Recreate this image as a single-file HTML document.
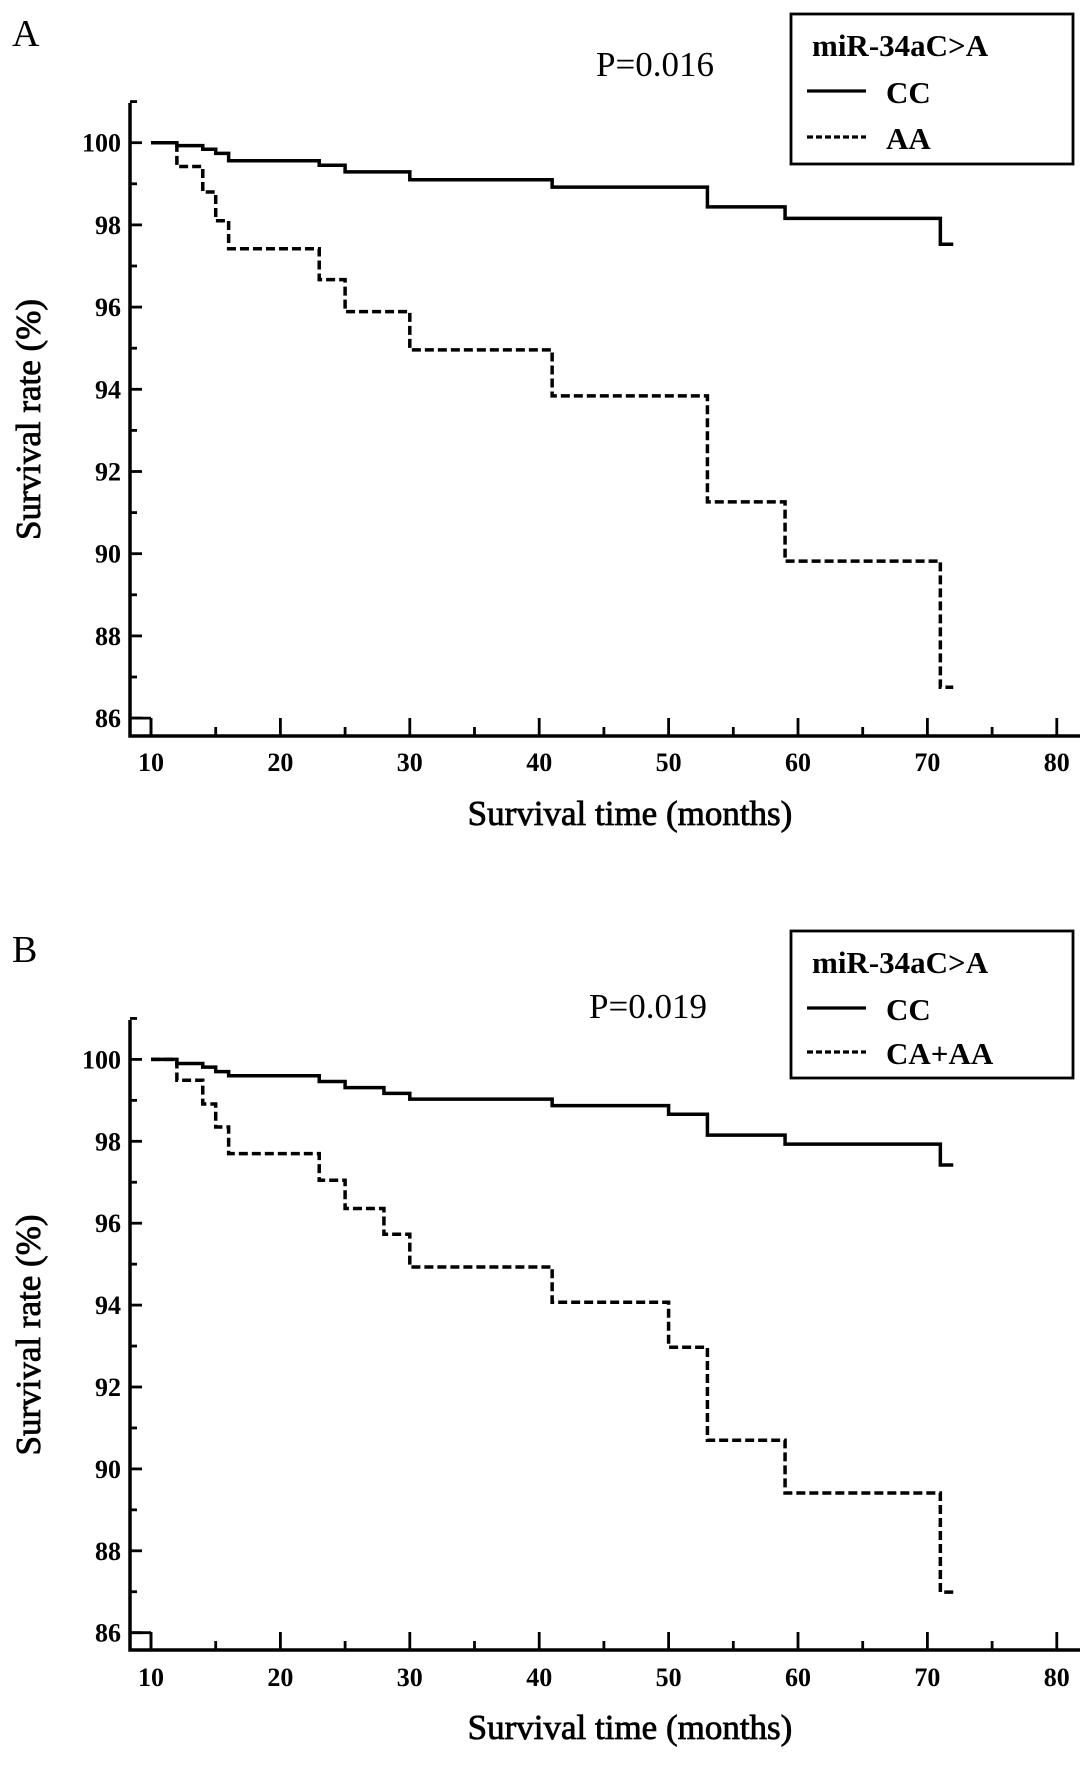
<!DOCTYPE html>
<html><head><meta charset="utf-8">
<style>
html,body{margin:0;padding:0;background:#fff;}
svg{display:block;font-family:"Liberation Serif",serif;}
</style></head>
<body>
<svg id="fig" width="1087" height="1766" viewBox="0 0 1087 1766"></svg>
<script>
const xTicks = [10,20,30,40,50,60,70,80];
const yTicks = [86,88,90,92,94,96,98,100];
const aCCx = [10,12,14,15,16,23,25,30,41,53,59,71,72];
const aCCy = [100,99.93,99.84,99.74,99.56,99.45,99.29,99.1,98.92,98.44,98.16,97.53,97.53];
const aAAx = [10,12,14,15,16,23,25,30,41,53,59,71,72];
const aAAy = [100,99.42,98.8,98.1,97.42,96.67,95.89,94.96,93.84,91.26,89.82,86.75,86.75];
const bCCx = [10,12,14,15,16,23,25,28,30,41,50,53,59,71,72];
const bCCy = [100,99.9,99.81,99.7,99.6,99.46,99.31,99.17,99.03,98.87,98.66,98.15,97.93,97.42,97.42];
const bAAx = [10,12,14,15,16,23,25,28,30,41,50,53,59,71,72];
const bAAy = [100,99.49,98.91,98.35,97.7,97.05,96.36,95.73,94.93,94.07,92.97,90.7,89.41,86.99,86.99];

const NS="http://www.w3.org/2000/svg";
const svg=document.getElementById('fig');
function mk(tag,attrs,parent,text){const e=document.createElementNS(NS,tag);for(const k in attrs)e.setAttribute(k,attrs[k]);if(text!==undefined)e.textContent=text;(parent||svg).appendChild(e);return e;}

function panel(cfg){
  const g=mk('g',{});
  
  
  const X=v=>151+(v-10)*12.94;
  const Y=v=>cfg.y100+(100-v)*cfg.per1;
  const ax=130, bottom=cfg.bottom, top=cfg.top;
  let e;
  e=mk('line',{x1:ax,y1:top,x2:ax,y2:bottom+1.5,stroke:'#000','stroke-width':3.5},g);
  
  e=mk('line',{x1:ax-1.5,y1:bottom,x2:1080,y2:bottom,stroke:'#000','stroke-width':3.5},g);
  
  for(let v=10;v<=80;v+=5){
    const major=v%10===0;
    e=mk('line',{x1:X(v),y1:bottom,x2:X(v),y2:bottom-(major?18:9),stroke:'#000','stroke-width':2.8},g);
    
  }
  xTicks.forEach(v=>{
    e=mk('text',{x:X(v),y:cfg.xlab,'text-anchor':'middle','font-size':26,'font-weight':'bold'},g,String(v));
    
  });
  for(let v=86;v<=101;v+=1){
    const major=v%2===0;
    e=mk('line',{x1:ax,y1:Y(v),x2:ax+(major?12:7),y2:Y(v),stroke:'#000','stroke-width':2.8},g);
    
  }
  e=mk('line',{x1:ax,y1:Y(86),x2:X(10),y2:Y(86),stroke:'#000','stroke-width':2.8},g);
  
  e=mk('line',{x1:X(10),y1:Y(86),x2:X(10),y2:bottom,stroke:'#000','stroke-width':2.8},g);
  
  yTicks.forEach(v=>{
    e=mk('text',{x:121,y:Y(v)+9,'text-anchor':'end','font-size':26,'font-weight':'bold'},g,String(v));
    
  });
  e=mk('text',{x:630,y:cfg.xtitle,'text-anchor':'middle','font-size':35,stroke:'#000','stroke-width':0.8},g,'Survival time (months)');
  
  const yc=(top+bottom)/2;
  e=mk('text',{x:0,y:0,'text-anchor':'middle','font-size':35,stroke:'#000','stroke-width':0.8,transform:`translate(40,${yc}) rotate(-90)`},g,'Survival rate (%)');
  
  e=mk('text',{x:12,y:cfg.letterY,'font-size':38},g,cfg.letter);
  
  e=mk('text',{x:cfg.px,y:cfg.pY,'text-anchor':'middle','font-size':35},g,cfg.p);
  
  function step(xs,ys){let d=`M${X(xs[0])},${Y(ys[0])}`;for(let i=1;i<xs.length;i++){d+=` H${X(xs[i])} V${Y(ys[i])}`;}return d;}
  e=mk('path',{d:step(cfg.ccx,cfg.ccy),fill:'none',stroke:'#000','stroke-width':3.5},g);
  
  e=mk('path',{d:step(cfg.aax,cfg.aay),fill:'none',stroke:'#000','stroke-width':3.5,'stroke-dasharray':'9,4'},g);
  
  const L=cfg.leg;
  e=mk('rect',{x:791,y:L.top,width:282,height:L.h,fill:'#fff',stroke:'#000','stroke-width':2.8},g);
  
  e=mk('text',{x:812,y:L.t,'font-size':31,'font-weight':'bold'},g,'miR-34aC>A');
  
  e=mk('line',{x1:807,y1:L.l1,x2:866,y2:L.l1,stroke:'#000','stroke-width':3.2},g);
  
  e=mk('text',{x:886,y:L.l1+12,'font-size':31,'font-weight':'bold'},g,'CC');
  
  e=mk('line',{x1:807,y1:L.l2,x2:866,y2:L.l2,stroke:'#000','stroke-width':3.2,'stroke-dasharray':'6,3'},g);
  
  e=mk('text',{x:886,y:L.l2+12,'font-size':31,'font-weight':'bold'},g,cfg.lab2);
  
}
panel({letter:'A',y100:142.7,per1:41.1,bottom:736,top:103,xlab:771,xtitle:825,letterY:46,px:655,pY:76,p:'P=0.016',
  ccx:aCCx,ccy:aCCy,aax:aAAx,aay:aAAy,lab2:'AA',leg:{top:14,h:150,t:56,l1:91,l2:137}});
panel({letter:'B',y100:1059.4,per1:40.95,bottom:1650,top:1020,xlab:1686,xtitle:1739,letterY:962,px:648,pY:1018,p:'P=0.019',
  ccx:bCCx,ccy:bCCy,aax:bAAx,aay:bAAy,lab2:'CA+AA',leg:{top:931,h:147,t:973,l1:1008,l2:1052}});
</script>
</body></html>
